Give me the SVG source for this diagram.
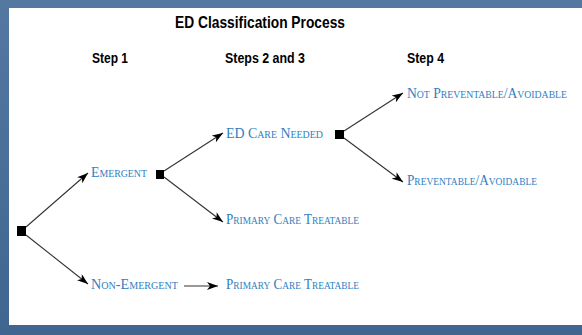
<svg xmlns="http://www.w3.org/2000/svg" width="582" height="335" viewBox="0 0 582 335">
<defs>
<style>
.title{font-family:"Liberation Sans",Arial,sans-serif;font-weight:bold;font-size:17px;fill:#000}
.step{font-family:"Liberation Sans",Arial,sans-serif;font-weight:bold;font-size:14px;fill:#000}
.lbl{font-family:"Liberation Serif","Times New Roman",serif;font-variant:small-caps;font-size:14px;fill:#2f80c2}
.conn{stroke:#333;stroke-width:1.1;fill:none;marker-end:url(#ah)}
.sq{fill:#000}
</style>
<linearGradient id="bg" x1="0" y1="0" x2="0" y2="1">
<stop offset="0" stop-color="#5478a0"/>
<stop offset="1" stop-color="#3f6590"/>
</linearGradient>
<marker id="ah" markerUnits="userSpaceOnUse" markerWidth="12" markerHeight="8" refX="11" refY="4" orient="auto">
<path d="M0,0 L11,4 L0,8 L3,4 z" fill="#000"/>
</marker>
</defs>
<rect x="0" y="0" width="582" height="335" fill="url(#bg)"/>
<rect x="9" y="8" width="573" height="317" fill="#fff"/>
<text class="title" x="260" y="28" text-anchor="middle" textLength="170" lengthAdjust="spacingAndGlyphs">ED Classification Process</text>
<text class="step" x="92" y="63" textLength="36" lengthAdjust="spacingAndGlyphs">Step 1</text>
<text class="step" x="225" y="63" textLength="80" lengthAdjust="spacingAndGlyphs">Steps 2 and 3</text>
<text class="step" x="407" y="63" textLength="37" lengthAdjust="spacingAndGlyphs">Step 4</text>
<g id="connectors">
<line class="conn" x1="26" y1="227" x2="88" y2="173"/>
<line class="conn" x1="26" y1="235" x2="88" y2="284"/>
<line class="conn" x1="164" y1="171" x2="223" y2="133"/>
<line class="conn" x1="164" y1="177" x2="223" y2="222"/>
<line class="conn" x1="344" y1="131" x2="403" y2="93"/>
<line class="conn" x1="344" y1="138" x2="403" y2="182"/>
<line class="conn" x1="184" y1="286" x2="218" y2="286"/>
</g>
<g id="root"><rect class="sq" x="17" y="226" width="9" height="10"/></g>
<g id="emergent"><text class="lbl" x="91" y="177" textLength="56" lengthAdjust="spacingAndGlyphs">Emergent</text></g>
<g id="emergent-split"><rect class="sq" x="156" y="170" width="8" height="9"/></g>
<g id="ed-care-needed"><text class="lbl" x="226" y="138" textLength="97" lengthAdjust="spacingAndGlyphs">ED Care Needed</text></g>
<g id="ed-split"><rect class="sq" x="335" y="130" width="9" height="9"/></g>
<g id="not-preventable"><text class="lbl" x="407" y="98" textLength="160" lengthAdjust="spacingAndGlyphs">Not Preventable/Avoidable</text></g>
<g id="preventable"><text class="lbl" x="407" y="185" textLength="130" lengthAdjust="spacingAndGlyphs">Preventable/Avoidable</text></g>
<g id="primary-care-1"><text class="lbl" x="226" y="224" textLength="133" lengthAdjust="spacingAndGlyphs">Primary Care Treatable</text></g>
<g id="non-emergent"><text class="lbl" x="91" y="289" textLength="87" lengthAdjust="spacingAndGlyphs">Non-Emergent</text></g>
<g id="primary-care-2"><text class="lbl" x="226" y="289" textLength="133" lengthAdjust="spacingAndGlyphs">Primary Care Treatable</text></g>
</svg>
